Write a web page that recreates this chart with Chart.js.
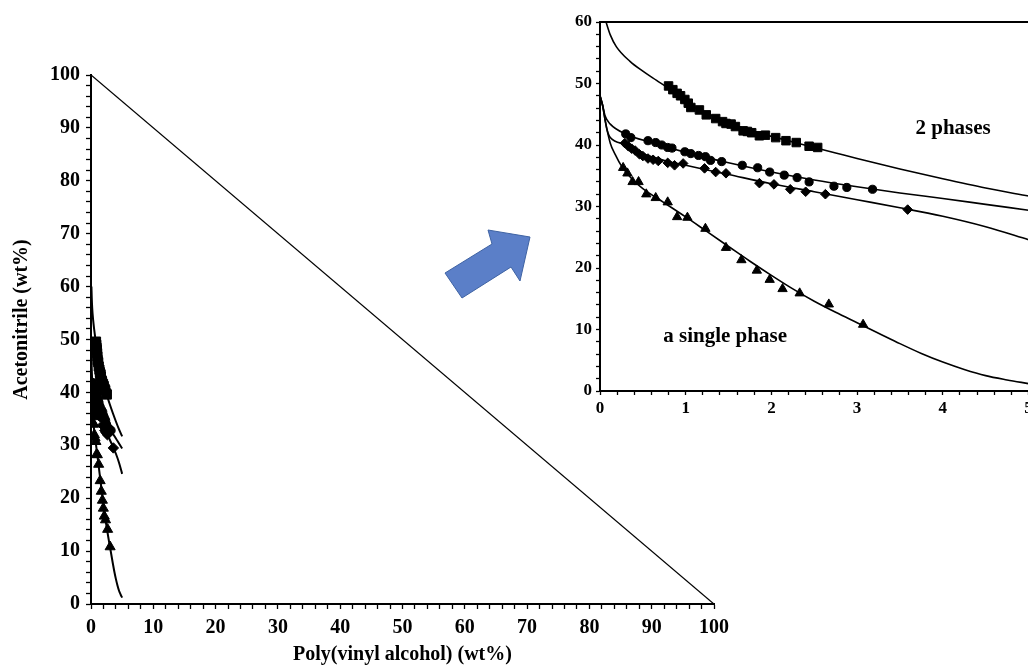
<!DOCTYPE html>
<html>
<head>
<meta charset="utf-8">
<script src="https://cdn.jsdelivr.net/npm/chart.js@4.4.1/dist/chart.umd.min.js"></script>
<style>
    html, body { margin: 0; padding: 0; background: #fff; overflow: hidden; }
    #wrap { position: relative; width: 1028px; height: 671px; overflow: hidden; }
    #mainBox { position: absolute; left: 0; top: 0; width: 1028px; height: 671px; }
    #insetBox { position: absolute; left: 540px; top: 0; width: 500px; height: 430px; }
    #arrow { position: absolute; left: 0; top: 0; pointer-events: none; }
</style>
</head>
<body>
<div id="wrap">
    <div id="mainBox"><canvas id="mainChart"></canvas></div>
    <div id="insetBox"><canvas id="insetChart"></canvas></div>
    <svg id="arrow" width="1028" height="671">
        <polygon points="445,273 492,244 488,230 530,237 520,281 511,267 462,298" fill="#5b7fc8" stroke="#3f63a3" stroke-width="1"/>
    </svg>
</div>
<script>
// 1. DATA (wt% poly(vinyl alcohol) vs wt% acetonitrile)
const squaresX = [0.80, 0.85, 0.90, 0.94, 0.99, 1.03, 1.06, 1.16, 1.24, 1.35, 1.43, 1.47, 1.53, 1.58, 1.67, 1.72, 1.77, 1.86, 1.93, 2.05, 2.17, 2.29, 2.44, 2.54];
const squaresY = [49.6, 49.0, 48.4, 48.0, 47.4, 46.8, 46.1, 45.7, 44.9, 44.3, 43.8, 43.5, 43.4, 43.0, 42.3, 42.2, 42.0, 41.5, 41.6, 41.2, 40.7, 40.4, 39.8, 39.6];

const circlesX = [0.30, 0.36, 0.56, 0.65, 0.72, 0.79, 0.84, 0.99, 1.06, 1.15, 1.23, 1.29, 1.42, 1.66, 1.84, 1.98, 2.15, 2.30, 2.44, 2.73, 2.88, 3.18];
const circlesY = [41.8, 41.2, 40.7, 40.4, 40.0, 39.6, 39.5, 38.9, 38.6, 38.3, 38.1, 37.5, 37.3, 36.7, 36.3, 35.6, 35.1, 34.7, 34.0, 33.3, 33.1, 32.8];

const diamondsX = [0.29, 0.33, 0.37, 0.41, 0.46, 0.50, 0.56, 0.62, 0.68, 0.79, 0.87, 0.97, 1.22, 1.35, 1.47, 1.86, 2.03, 2.22, 2.40, 2.63, 3.59];
const diamondsY = [40.3, 39.8, 39.4, 39.1, 38.5, 38.2, 37.8, 37.6, 37.4, 37.1, 36.7, 37.0, 36.2, 35.6, 35.4, 33.8, 33.6, 32.8, 32.4, 32.0, 29.5];

const trianglesX = [0.27, 0.32, 0.38, 0.45, 0.54, 0.65, 0.79, 0.90, 1.02, 1.23, 1.47, 1.65, 1.83, 1.98, 2.13, 2.33, 2.67, 3.07];
const trianglesY = [36.3, 35.4, 34.0, 34.0, 32.0, 31.4, 30.7, 28.3, 28.2, 26.4, 23.3, 21.3, 19.6, 18.1, 16.6, 15.9, 14.1, 10.8];

// fitted binodal curves
const fitSquaresX = [0.07, 0.12, 0.19, 0.35, 0.50, 0.66, 0.80, 1.00, 1.25, 1.50, 1.75, 2.00, 2.25, 2.50, 2.75, 3.00, 3.50, 4.00, 4.50, 5.00];
const fitSquaresY = [60.0, 57.9, 56.0, 53.6, 52.0, 50.5, 49.2, 46.9, 45.1, 43.6, 42.4, 41.4, 40.5, 39.6, 38.7, 37.8, 36.1, 34.5, 33.0, 31.7];

const fitCirclesX = [0, 0.03, 0.06, 0.12, 0.30, 0.60, 1.00, 1.50, 2.00, 2.50, 3.00, 3.50, 4.00, 4.50, 5.00];
const fitCirclesY = [48.0, 46.5, 44.7, 43.4, 41.8, 40.4, 38.8, 37.1, 35.6, 34.3, 33.2, 32.2, 31.3, 30.35, 29.4];

const fitDiamondsX = [0, 0.03, 0.08, 0.12, 0.30, 0.50, 0.80, 1.00, 1.50, 2.00, 2.50, 3.00, 3.50, 4.00, 4.50, 5.00];
const fitDiamondsY = [48.0, 46.4, 42.6, 41.2, 40.1, 38.6, 37.3, 36.7, 35.2, 33.7, 32.4, 31.1, 29.8, 28.4, 26.7, 24.6];

const fitTrianglesX = [0, 0.03, 0.06, 0.12, 0.18, 0.25, 0.37, 0.50, 0.75, 1.00, 1.25, 1.50, 1.75, 2.00, 2.25, 2.50, 2.75, 3.00, 3.25, 3.50, 3.75, 4.00, 4.25, 4.50, 4.75, 5.00];
const fitTrianglesY = [48.0, 46.5, 44.0, 40.3, 38.4, 36.6, 34.5, 32.9, 30.6, 28.3, 25.9, 23.5, 21.1, 18.8, 16.6, 14.6, 12.8, 11.1, 9.4, 7.7, 6.1, 4.7, 3.5, 2.5, 1.8, 1.2];

// x + y = 100 boundary of the composition space
const limitX = [0, 100];
const limitY = [100, 0];

// region labels of the zoomed view
const phaseLabels = ['2 phases', 'a single phase'];
const phaseLabelX = [4.12, 1.46];
const phaseLabelY = [41.8, 8.0];

// 2. SHARED STYLE
const serif = "'Liberation Serif', 'Times New Roman', serif";
const pts = (xs, ys) => xs.map((x, i) => ({ x: x, y: ys[i] }));
const isWhole = (v, step) => Math.abs(v / step - Math.round(v / step)) < 1e-6;

function buildDatasets(size, lineWidth, withLimit) {
    const curve = (xs, ys) => ({
        data: pts(xs, ys), showLine: true, borderColor: '#000', borderWidth: lineWidth,
        pointRadius: 0, cubicInterpolationMode: 'monotone', fill: false
    });
    const marks = (xs, ys, style, r) => ({
        data: pts(xs, ys), showLine: false, pointStyle: style, pointRadius: r,
        pointBackgroundColor: '#000', pointBorderColor: '#000', pointBorderWidth: 1
    });
    const sets = [
        curve(fitSquaresX, fitSquaresY),
        curve(fitCirclesX, fitCirclesY),
        curve(fitDiamondsX, fitDiamondsY),
        curve(fitTrianglesX, fitTrianglesY),
        marks(squaresX, squaresY, 'rect', size * 1.25),
        marks(circlesX, circlesY, 'circle', size * 0.85),
        marks(diamondsX, diamondsY, 'rectRot', size),
        marks(trianglesX, trianglesY, 'triangle', size * 1.12)
    ];
    if (withLimit) {
        sets.unshift({ data: pts(limitX, limitY), showLine: true, borderColor: '#000', borderWidth: 1.3, pointRadius: 0 });
    }
    return sets;
}

function axis(min, max, step, major, fontSize, opts) {
    return Object.assign({
        type: 'linear', min: min, max: max,
        ticks: {
            stepSize: step, autoSkip: false, maxRotation: 0, color: '#000',
            font: { family: serif, size: fontSize, weight: 'bold' },
            callback: v => isWhole(v, major) ? Math.round(v) : ''
        },
        grid: { drawOnChartArea: false, tickLength: 5, tickColor: '#000', tickWidth: 1.3 },
        border: { display: true, color: '#000', width: 2 }
    }, opts);
}

// 3. MAIN CHART
const yTitlePlugin = {
    id: 'yTitle',
    afterDraw(chart) {
        const c = chart.ctx, area = chart.chartArea;
        c.save();
        c.translate(22, (area.top + area.bottom) / 2 - 20);
        c.rotate(-Math.PI / 2);
        c.font = 'bold 20px ' + serif;
        c.fillStyle = '#000';
        c.textAlign = 'center';
        c.textBaseline = 'middle';
        c.fillText('Acetonitrile (wt%)', 0, 0);
        c.restore();
    }
};

const xMain = axis(0, 100, 2, 10, 20, {
    title: { display: true, text: 'Poly(vinyl alcohol) (wt%)', color: '#000', font: { family: serif, size: 20, weight: 'bold' }, padding: { top: 2 } },
    afterFit: s => { s.height = 67; }
});
xMain.ticks.padding = 7;
const yMain = axis(0, 100, 2, 10, 20, { afterFit: s => { s.width = 91; } });
yMain.ticks.padding = 6;

new Chart(document.getElementById('mainChart'), {
    type: 'scatter',
    data: { datasets: buildDatasets(5.2, 2, true) },
    options: {
        responsive: true, maintainAspectRatio: false, animation: false,
        layout: { padding: { left: 0, top: 75, right: 314, bottom: 0 } },
        plugins: { legend: { display: false }, tooltip: { enabled: false } },
        scales: { x: xMain, y: yMain }
    },
    plugins: [yTitlePlugin]
});

// 4. INSET (zoom of 0-5 wt% polymer)
const phaseTextPlugin = {
    id: 'phaseText',
    afterDatasetsDraw(chart) {
        const c = chart.ctx;
        c.save();
        c.font = 'bold 21px ' + serif;
        c.fillStyle = '#000';
        c.textAlign = 'center';
        c.textBaseline = 'alphabetic';
        phaseLabels.forEach((t, i) => {
            c.fillText(t, chart.scales.x.getPixelForValue(phaseLabelX[i]), chart.scales.y.getPixelForValue(phaseLabelY[i]));
        });
        c.restore();
    }
};

const xInset = axis(0, 5, 0.2, 1, 17, { afterFit: s => { s.height = 39; } });
xInset.ticks.padding = 3;
xInset.grid.tickLength = 4;
const yInset = axis(0, 60, 2, 10, 17, { afterFit: s => { s.width = 60; } });
yInset.ticks.padding = 4;
yInset.grid.tickLength = 4;

new Chart(document.getElementById('insetChart'), {
    type: 'scatter',
    data: { datasets: buildDatasets(4.8, 1.6, false) },
    options: {
        responsive: true, maintainAspectRatio: false, animation: false,
        layout: { padding: { left: 0, top: 22, right: 11.5, bottom: 0 } },
        plugins: { legend: { display: false }, tooltip: { enabled: false } },
        scales: {
            x: xInset,
            y: yInset,
            xTop: {
                type: 'linear', position: 'top', min: 0, max: 5,
                ticks: { display: false }, grid: { display: false, drawTicks: false },
                border: { display: true, color: '#000', width: 2 },
                afterFit: s => { s.height = 0; }
            }
        }
    },
    plugins: [phaseTextPlugin]
});
</script>
</body>
</html>
